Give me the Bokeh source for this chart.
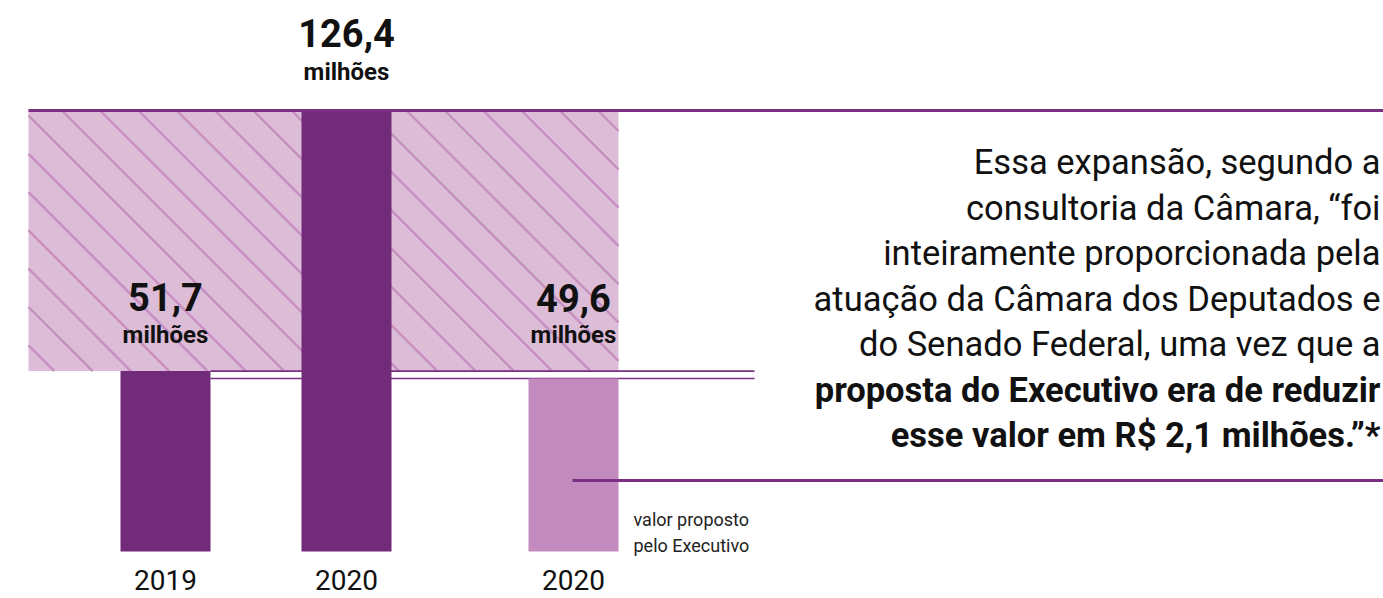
from bokeh.plotting import figure
from bokeh.models import Range1d
from bokeh.core.properties import value
from bokeh.embed import file_html
from bokeh.resources import INLINE

# ---------------- data ----------------
years = ["2019", "2020", "2020"]
values = [51.7, 126.4, 49.6]
value_labels = ["51,7", "126,4", "49,6"]
unit_label = "milhões"
note_regular = [
    "Essa expansão, segundo a",
    "consultoria da Câmara, \u201cfoi",
    "inteiramente proporcionada pela",
    "atuação da Câmara dos Deputados e",
    "do Senado Federal, uma vez que a",
]
note_bold = [
    "proposta do Executivo era de reduzir",
    "esse valor em R$ 2,1 milhões.\u201d*",
]
bar_note = ["valor proposto", "pelo Executivo"]

# ---------------- layout / style ----------------
DARK = "#722a7b"
LIGHT = "#c38abd"
HATCH_BG = "#dcbcd7"
HATCH_LN = "#c590c1"
LINE = "#7a2f82"
TXT = "#111111"
FONT = value("Roboto")
BFIX = 0.38   # em correction for the rendered baseline

W, H = 1383, 598
PAGE_X0, PAGE_Y0 = 0, 0
BASE_Y = 551          # page pixel of value 0
TOP_Y = 110           # page pixel of the largest value
scale = (BASE_Y - TOP_Y) / max(values)   # px per unit

def vy(page_y):
    return (BASE_Y - page_y) / scale

y_lo = vy(PAGE_Y0 + H)
y_hi = vy(PAGE_Y0)

centers = [165, 346, 573]
bw = 90
colors = [DARK, DARK, LIGHT]
num_dy = [-60, -63, -66]
unit_dy = [-27, -29, -34]

p = figure(width=W, height=H, x_range=Range1d(PAGE_X0, PAGE_X0 + W),
           y_range=Range1d(y_lo, y_hi), toolbar_location=None,
           output_backend="svg", min_border=0)
p.axis.visible = False
p.grid.visible = False
p.outline_line_color = None
p.background_fill_color = "white"
p.border_fill_color = "white"

# hatched band between the 2019 value and the 2020 value
band_l, band_r = 28, centers[2] + bw / 2
band_b, band_t = values[0], values[1]
p.quad(left=[band_l], right=[band_r], bottom=[band_b], top=[band_t],
       fill_color=HATCH_BG, line_color=None)
band_hpx = (band_t - band_b) * scale
step = 38.3
hx0, hx1, hy0, hy1 = [], [], [], []
xt = 23 - step * 8
while xt < band_r:
    xs, xe = xt, xt + band_hpx
    ds = max(0, band_l - xs)
    de = max(0, xe - band_r)
    if xs + ds < xe - de:
        hx0.append(xs + ds)
        hy0.append(band_t - ds / scale)
        hx1.append(xe - de)
        hy1.append(band_b + de / scale)
    xt += step
p.segment(x0=hx0, y0=hy0, x1=hx1, y1=hy1, line_color=HATCH_LN, line_width=2.4)

# thin reference lines at 2019 and proposed values
p.segment(x0=[centers[0] + bw / 2] * 2, x1=[754, 754], y0=[values[0], values[2]],
          y1=[values[0], values[2]], line_color=LINE, line_width=1.6)

# bars
p.vbar(x=centers, width=bw, bottom=0, top=values, fill_color=colors, line_color=None)

# top line
p.segment(x0=[28], x1=[1383], y0=[values[1]], y1=[values[1]], line_color=LINE, line_width=3)
# note connector line
p.segment(x0=[572], x1=[1383], y0=[vy(480)], y1=[vy(480)], line_color=LINE, line_width=3)

# value labels
p.text(x=centers, y=values, text=value_labels, y_offset=[d - BFIX * 38 for d in num_dy],
       text_align="center", text_baseline="alphabetic", text_font=FONT,
       text_font_style="bold", text_font_size="38px", text_color=TXT)
p.text(x=centers, y=values, text=[unit_label] * 3, y_offset=[d - BFIX * 24 for d in unit_dy],
       text_align="center", text_baseline="alphabetic", text_font=FONT,
       text_font_style="bold", text_font_size="24px", text_color=TXT)

# year labels
p.text(x=centers, y=[0] * 3, text=years, y_offset=39 - BFIX * 28, text_align="center",
       text_baseline="alphabetic", text_font=FONT, text_font_size="28px", text_color=TXT)

# note under the proposed bar
p.text(x=[633] * 2, y=[vy(526), vy(552)], text=bar_note, y_offset=-BFIX * 18,
       text_align="left", text_baseline="alphabetic", text_font=FONT,
       text_font_size="18px", text_color="#222222")

# right-hand quote
base = [175 + 45.5 * i for i in range(len(note_regular) + len(note_bold))]
p.text(x=[1380] * len(note_regular), y=[vy(b) for b in base[:len(note_regular)]],
       text=note_regular, y_offset=-BFIX * 34.5, text_align="right",
       text_baseline="alphabetic", text_font=FONT, text_font_size="34.5px", text_color=TXT)
p.text(x=[1380] * len(note_bold), y=[vy(b) for b in base[len(note_regular):]],
       text=note_bold, y_offset=-BFIX * 34.5, text_align="right",
       text_baseline="alphabetic", text_font=FONT, text_font_style="bold",
       text_font_size="34.5px", text_color=TXT)

open("out.html", "w").write(file_html(p, INLINE))
